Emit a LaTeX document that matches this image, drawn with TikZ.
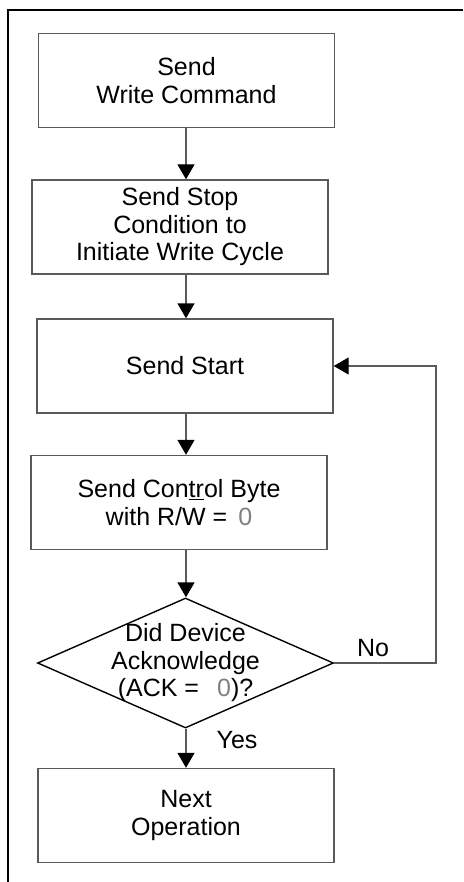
\documentclass[tikz,border=0pt]{standalone}
\usepackage{fontspec}
\setmainfont{Liberation Sans}
\usepackage{xcolor}
\usetikzlibrary{shapes.geometric,arrows.meta}
\definecolor{edge}{HTML}{5A5A5A}
\definecolor{zero}{HTML}{808080}
\tikzset{
  stepbox/.style={draw=edge, line width=1.4pt, minimum width=296pt, minimum height=94pt,
    align=center, inner sep=0pt},
  decide/.style={draw=black, line width=1.4pt, diamond, minimum width=296pt, minimum height=130pt,
    inner sep=0pt},
  flow/.style={draw=edge, line width=1.4pt, -{Triangle[length=15pt,width=17pt,color=black]}},
  labt/.style={font=\fontsize{25}{27.5}\selectfont, align=center},
  every node/.style={text=black}
}
\newcommand{\zeroch}{\textcolor{zero}{0}}

\begin{document}
\begin{tikzpicture}[x=1pt,y=-1pt]
  \useasboundingbox (0,0) rectangle (463,882);
  \coordinate (axis) at (186,0);
  \coordinate (loop) at (436,0);

  % frame
  \draw[line width=2pt] (7.5,882) -- (7.5,10) -- (463,10);

  \node[stepbox,labt] (write) at (186.5,80.5) {Send\\Write Command};
  \node[stepbox,labt] (stop) at (180,227) {Send Stop\\Condition to\\Initiate Write Cycle};
  \node[stepbox,labt] (start) at (185,366) {Send Start};
  \node[stepbox,labt] (ctrl) at (179,502.5) {Send Con\underline{tr}ol Byte\\with R/W = \,\zeroch};
  \node[decide] (ack) at (185.5,663) {};
  \node[labt] (acktxt) at (ack) {Did Device\\Acknowledge\\(ACK = \;\,\zeroch)?};
  \node[stepbox,labt] (next) at (186,815.5) {Next\\Operation};

  \draw[flow] (axis |- write.south) -- (axis |- stop.north);
  \draw[flow] (axis |- stop.south) -- (axis |- start.north);
  \draw[flow] (axis |- start.south) -- (axis |- ctrl.north);
  \draw[flow] (axis |- ctrl.south) -- (axis |- ack.north);
  \draw[flow] (axis |- ack.south) -- (axis |- next.north);
  \draw[flow] (ack.east) -- (ack.east -| loop) |- (start.east);

  \node[labt] (no) at (373,648) {No};
  \node[labt] (yes) at (237,740) {Yes};
\end{tikzpicture}
\end{document}
